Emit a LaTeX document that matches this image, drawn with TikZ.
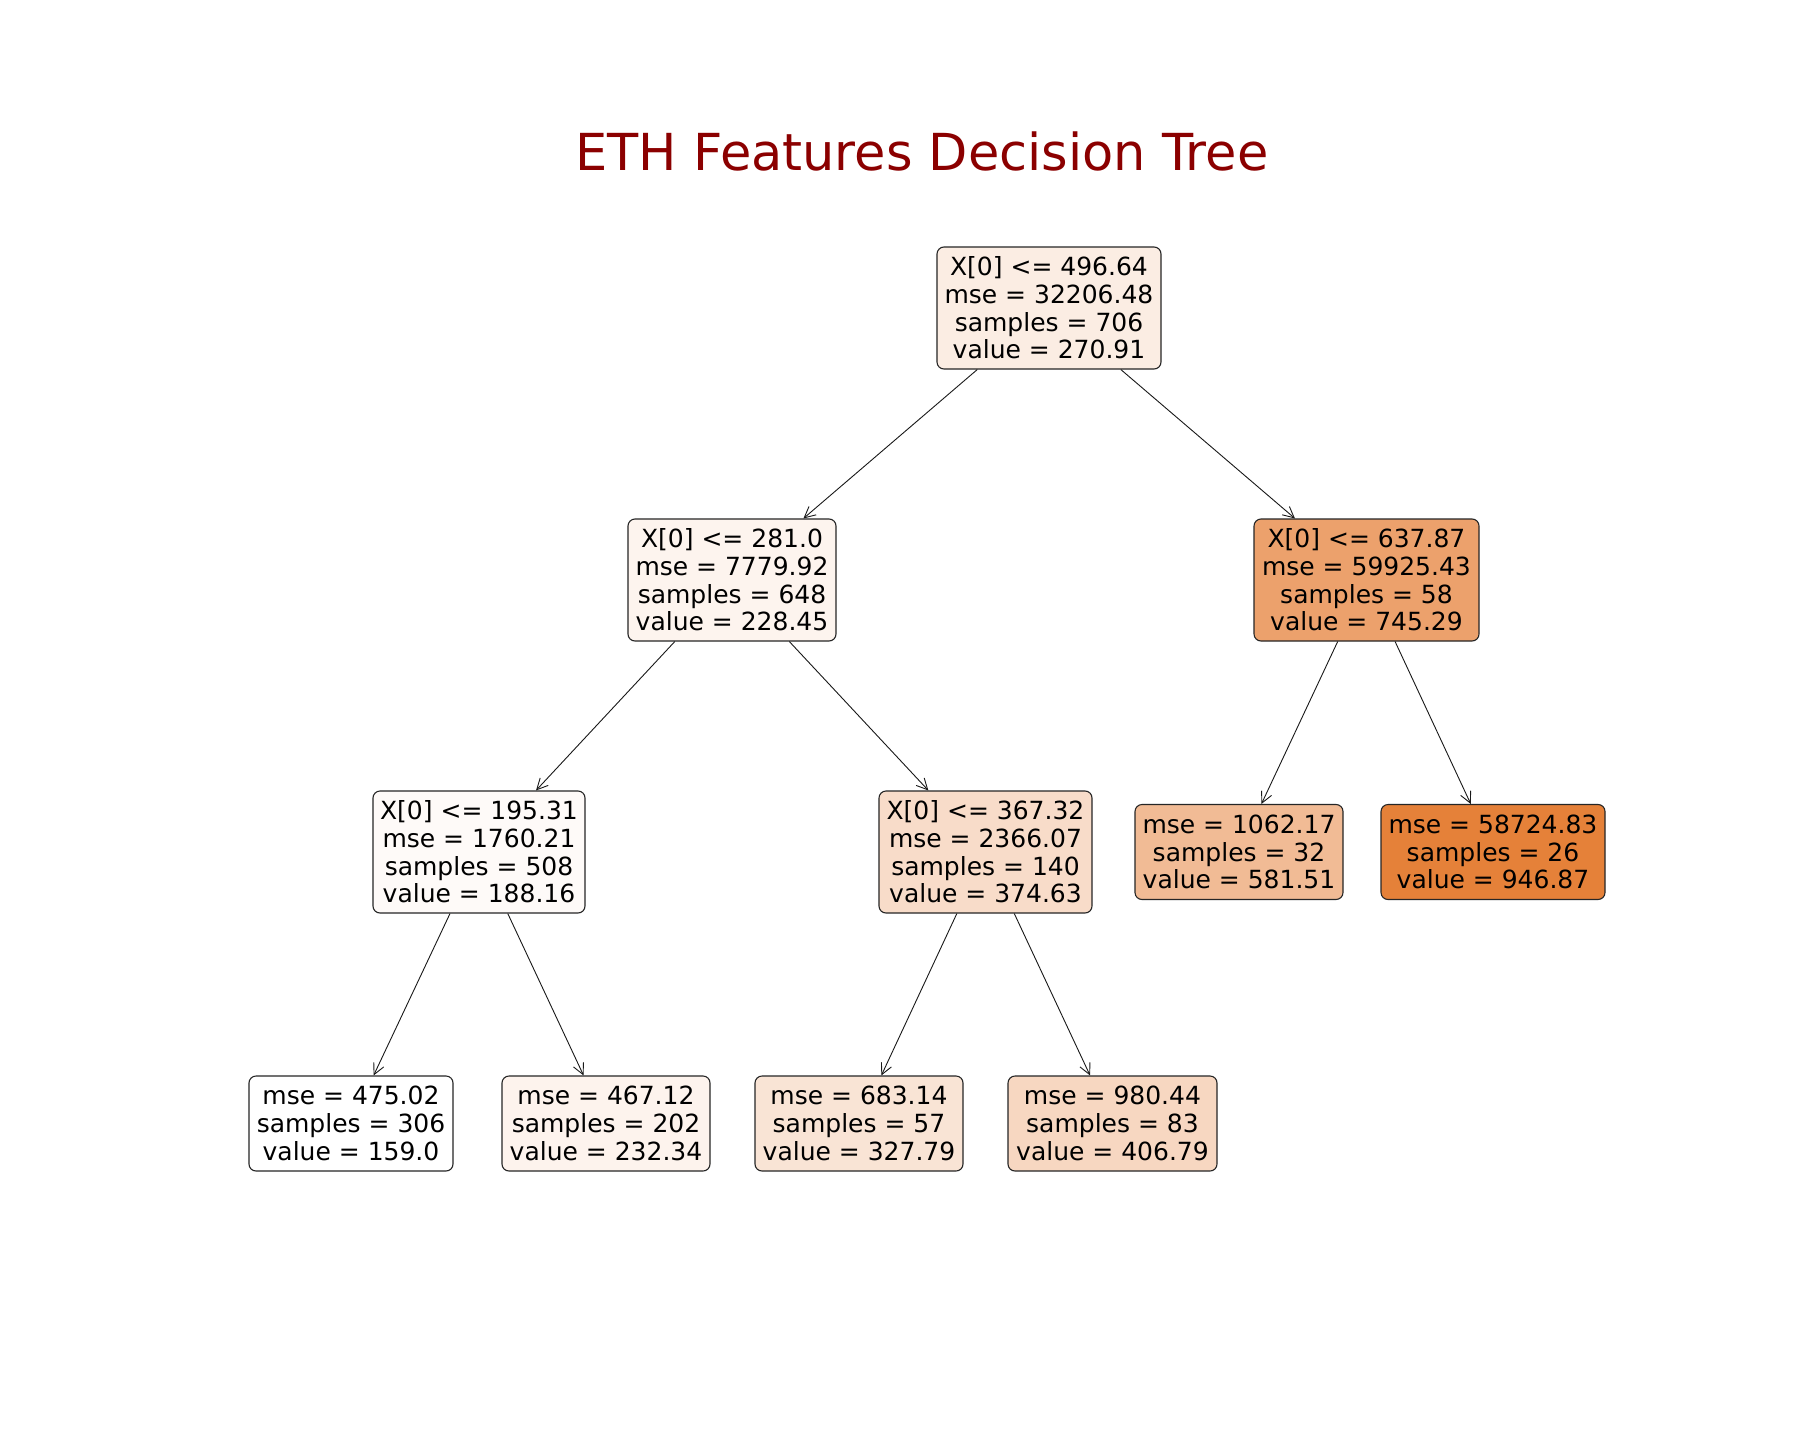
\documentclass[tikz,border=0pt]{standalone}
\usepackage{fontspec}
\setmainfont{DejaVu Sans}
\usetikzlibrary{arrows.meta}
\definecolor{titlered}{RGB}{139,0,0}
\definecolor{croot}{RGB}{251,237,227}
\definecolor{cna}{RGB}{253,244,238}
\definecolor{cnb}{RGB}{236,161,108}
\definecolor{cnc}{RGB}{254,250,248}
\definecolor{cnd}{RGB}{248,220,201}
\definecolor{cle}{RGB}{241,187,149}
\definecolor{clf}{RGB}{229,129,57}
\definecolor{clg}{RGB}{255,255,255}
\definecolor{clh}{RGB}{253,243,237}
\definecolor{cli}{RGB}{249,228,213}
\definecolor{clj}{RGB}{247,215,193}
\begin{document}
\begin{tikzpicture}[x=1pt,y=-1pt,
  tnode/.style={draw=black!85, line width=1.1pt, rounded corners=7pt, inner sep=0pt,
    align=center, font=\fontsize{25}{27.7}\selectfont},
  inner4/.style={tnode, minimum height=122pt},
  leaf3/.style={tnode, minimum height=95pt},
  edge/.style={draw=black!90, line width=0.9pt, -{Straight Barb[length=11pt,width=11pt]}}]
\useasboundingbox (0,0) rectangle (1800,1440);
\fill[white] (0,0) rectangle (1800,1440);
\node[font=\fontsize{51}{60}\selectfont, text=titlered, anchor=base] (title) at (922,170) {ETH Features Decision Tree};

\node[inner4, fill=croot, minimum width=224pt] (root) at (1049,308) {X[0] <= 496.64\\mse = 32206.48\\samples = 706\\value = 270.91};
\node[inner4, fill=cna, minimum width=208pt] (na) at (732,580) {X[0] <= 281.0\\mse = 7779.92\\samples = 648\\value = 228.45};
\node[inner4, fill=cnb, minimum width=225pt] (nb) at (1366.5,580) {X[0] <= 637.87\\mse = 59925.43\\samples = 58\\value = 745.29};
\node[inner4, fill=cnc, minimum width=212pt] (nc) at (479,852) {X[0] <= 195.31\\mse = 1760.21\\samples = 508\\value = 188.16};
\node[inner4, fill=cnd, minimum width=213pt] (nd) at (985.5,852) {X[0] <= 367.32\\mse = 2366.07\\samples = 140\\value = 374.63};
\node[leaf3, fill=cle, minimum width=208pt] (le) at (1239,852) {mse = 1062.17\\samples = 32\\value = 581.51};
\node[leaf3, fill=clf, minimum width=224pt] (lf) at (1493,852) {mse = 58724.83\\samples = 26\\value = 946.87};
\node[leaf3, fill=clg, minimum width=204pt] (lg) at (351,1123.5) {mse = 475.02\\samples = 306\\value = 159.0};
\node[leaf3, fill=clh, minimum width=208pt] (lh) at (606,1123.5) {mse = 467.12\\samples = 202\\value = 232.34};
\node[leaf3, fill=cli, minimum width=208pt] (li) at (859,1123.5) {mse = 683.14\\samples = 57\\value = 327.79};
\node[leaf3, fill=clj, minimum width=209pt] (lj) at (1112.5,1123.5) {mse = 980.44\\samples = 83\\value = 406.79};

\draw[edge] (root) -- (na);
\draw[edge] (root) -- (nb);
\draw[edge] (na) -- (nc);
\draw[edge] (na) -- (nd);
\draw[edge] (nb) -- (le);
\draw[edge] (nb) -- (lf);
\draw[edge] (nc) -- (lg);
\draw[edge] (nc) -- (lh);
\draw[edge] (nd) -- (li);
\draw[edge] (nd) -- (lj);
\end{tikzpicture}
\end{document}
